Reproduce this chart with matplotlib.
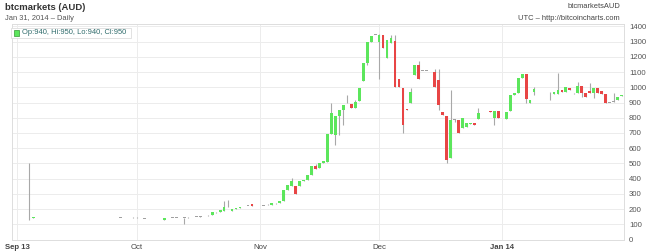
import numpy as np
import matplotlib
matplotlib.use('Agg')
import matplotlib.pyplot as plt
import matplotlib.dates as mdates

plt.rcParams['font.family'] = ['Liberation Sans', 'DejaVu Sans']

dates = ['2013-09-04', '2013-09-05', '2013-09-11', '2013-09-13', '2013-09-27', '2013-09-30',
         '2013-10-01', '2013-10-03', '2013-10-07', '2013-10-08', '2013-10-09', '2013-10-10',
         '2013-10-11', '2013-10-13', '2013-10-14', '2013-10-15', '2013-10-16', '2013-10-17',
         '2013-10-18', '2013-10-19', '2013-10-20', '2013-10-21', '2013-10-22', '2013-10-23',
         '2013-10-24', '2013-10-25', '2013-10-26', '2013-10-27', '2013-10-28', '2013-10-29',
         '2013-10-30', '2013-11-01', '2013-11-02', '2013-11-03', '2013-11-04', '2013-11-05',
         '2013-11-06', '2013-11-07', '2013-11-08', '2013-11-09', '2013-11-10', '2013-11-11',
         '2013-11-12', '2013-11-13', '2013-11-14', '2013-11-15', '2013-11-16', '2013-11-17',
         '2013-11-18', '2013-11-19', '2013-11-20', '2013-11-21', '2013-11-22', '2013-11-23',
         '2013-11-24', '2013-11-25', '2013-11-26', '2013-11-27', '2013-11-28', '2013-11-29',
         '2013-11-30', '2013-12-01', '2013-12-02', '2013-12-03', '2013-12-04', '2013-12-05',
         '2013-12-06', '2013-12-07', '2013-12-08', '2013-12-09', '2013-12-10', '2013-12-11',
         '2013-12-12', '2013-12-13', '2013-12-15', '2013-12-16', '2013-12-17', '2013-12-18',
         '2013-12-19', '2013-12-20', '2013-12-21', '2013-12-22', '2013-12-23', '2013-12-24',
         '2013-12-25', '2013-12-26', '2013-12-27', '2013-12-28', '2013-12-29', '2013-12-30',
         '2013-12-31', '2014-01-01', '2014-01-02', '2014-01-03', '2014-01-04', '2014-01-05',
         '2014-01-06', '2014-01-07', '2014-01-08', '2014-01-09', '2014-01-10', '2014-01-11',
         '2014-01-13', '2014-01-14', '2014-01-15', '2014-01-16', '2014-01-17', '2014-01-18',
         '2014-01-19', '2014-01-20', '2014-01-21', '2014-01-22', '2014-01-23', '2014-01-24',
         '2014-01-25', '2014-01-26', '2014-01-27', '2014-01-28', '2014-01-29', '2014-01-30',
         '2014-01-31']

opens = [132, 140, 140, 140, 142, 145,
         145, 136, 127, 127, 140, 142,
         142, 142, 145, 147, 149, 151,
         153, 158, 158, 178, 178, 188,
         225, 188, 200, 206, 219, 222,
         230, 219, 220, 230, 228, 237,
         241, 254, 324, 351, 351, 351,
         384, 392, 423, 482, 467, 500,
         511, 691, 686, 813, 851, 895,
         890, 866, 910, 1042, 1158, 1300,
         1344, 1300, 1344, 1195, 1290, 1307,
         1053, 994, 855, 895, 1081, 1147,
         1107, 1107, 1100, 1048, 836, 811,
         533, 785, 785, 730, 741, 760,
         767, 792, 829, 829, 846, 796,
         846, 790, 790, 846, 949, 961,
         1059, 1088, 899, 971, 954, 954,
         954, 954, 954, 982, 971, 998,
         960, 960, 1009, 965, 978, 965,
         998, 976, 954, 899, 905, 917,
         940]

highs = [500, 150, 141, 141, 143, 146,
         146, 137, 128, 140, 141, 143,
         143, 143, 146, 148, 150, 152,
         154, 159, 178, 179, 193, 254,
         258, 200, 205, 212, 220, 223,
         231, 220, 221, 231, 237, 238,
         254, 324, 357, 401, 351, 384,
         392, 423, 482, 495, 500, 515,
         691, 895, 811, 851, 883, 949,
         892, 917, 998, 1158, 1300, 1335,
         1345, 1350, 1344, 1311, 1344, 1344,
         1053, 994, 856, 994, 1147, 1175,
         1108, 1108, 1122, 1119, 836, 811,
         982, 795, 785, 798, 763, 764,
         767, 862, 830, 830, 846, 846,
         846, 791, 840, 949, 960, 1059,
         1088, 1088, 917, 1000, 955, 955,
         971, 971, 1096, 982, 1000, 998,
         961, 1037, 1009, 965, 1026, 998,
         998, 976, 954, 900, 960, 938,
         950]

lows = [127, 140, 139, 139, 141, 144,
        144, 135, 126, 127, 139, 141,
        141, 100, 144, 146, 148, 150,
        152, 157, 158, 177, 178, 186,
        215, 188, 200, 206, 218, 221,
        221, 218, 219, 229, 228, 236,
        241, 254, 324, 351, 298, 351,
        384, 392, 423, 461, 467, 500,
        511, 691, 620, 686, 752, 895,
        866, 866, 910, 1042, 1147, 1300,
        1343, 1053, 1256, 1195, 1290, 1004,
        1004, 697, 848, 895, 1081, 1053,
        1106, 1106, 1004, 851, 815, 500,
        533, 775, 700, 730, 741, 760,
        752, 792, 828, 828, 836, 752,
        796, 789, 790, 846, 949, 961,
        1059, 899, 899, 950, 953, 953,
        917, 954, 954, 971, 971, 982,
        959, 960, 938, 938, 965, 928,
        965, 954, 899, 898, 905, 917,
        940]

closes = [132, 148, 140, 140, 142, 145,
          145, 136, 127, 140, 140, 142,
          142, 142, 145, 147, 149, 151,
          153, 158, 178, 178, 193, 215,
          225, 200, 205, 212, 219, 222,
          221, 219, 220, 230, 237, 237,
          254, 324, 357, 386, 298, 384,
          392, 423, 482, 461, 500, 515,
          691, 833, 811, 851, 883, 897,
          866, 905, 998, 1158, 1300, 1335,
          1344, 1344, 1256, 1311, 1323, 1004,
          1004, 752, 848, 971, 1147, 1053,
          1107, 1107, 1004, 884, 815, 525,
          785, 785, 700, 798, 763, 764,
          752, 829, 829, 829, 836, 846,
          796, 790, 840, 949, 960, 1059,
          1088, 921, 917, 988, 954, 954,
          954, 971, 982, 971, 1000, 982,
          960, 1009, 965, 938, 965, 998,
          965, 954, 899, 899, 905, 938,
          950]

y_ticks = list(range(0, 1500, 100))
month_ticks = ['2013-09-01', '2013-10-01', '2013-11-01', '2013-12-01', '2014-01-01']
month_labels = ['Sep 13', 'Oct', 'Nov', 'Dec', 'Jan 14']

UP = '#5ce65c'
DOWN = '#e84545'
FLAT = '#a0a0a0'
WICK = '#a8a8a8'

x = mdates.datestr2num(dates)
o = np.array(opens, dtype=float)
h = np.array(highs, dtype=float)
l = np.array(lows, dtype=float)
c = np.array(closes, dtype=float)

fig = plt.figure(figsize=(6.5, 2.52), dpi=100)
ax = fig.add_axes([12 / 650, 12.5 / 252, 611.5 / 650, 215.5 / 252])

ax.vlines(x, l, h, color=WICK, linewidth=0.8, zorder=2)
colors = [UP if cc > oo else (DOWN if cc < oo else FLAT) for oo, cc in zip(o, c)]
bottoms = np.minimum(o, c)
heights = np.maximum(np.abs(c - o), 4)
ax.bar(x, heights, bottom=bottoms, width=0.7, color=colors, edgecolor='none', zorder=3)

ax.set_ylim(0, 1416)
ax.set_xlim(mdates.datestr2num('2013-09-01') - 1.37, mdates.datestr2num('2014-02-01') - 0.5)

ax.yaxis.tick_right()
ax.set_yticks(y_ticks)
ax.set_yticklabels([str(v) for v in y_ticks], fontsize=5.6, color='#555555')
ax.tick_params(axis='y', length=0, pad=4)

mt = mdates.datestr2num(month_ticks)
ax.set_xticks(mt)
ax.set_xticklabels(month_labels, fontsize=5.6, color='#444444')
for lab in ax.get_xticklabels():
    if lab.get_text() in ('Sep 13', 'Jan 14'):
        lab.set_fontweight('bold')
ax.tick_params(axis='x', length=0, pad=3)

ax.grid(True, color='#ececec', linewidth=0.7, zorder=0)
ax.set_axisbelow(True)
for side in ['left', 'top', 'bottom', 'right']:
    ax.spines[side].set_color('#dddddd')
    ax.spines[side].set_linewidth(0.7)

# header texts
fig.text(5 / 650, 1 - 7 / 252, 'btcmarkets (AUD)', fontsize=6.8, fontweight='bold',
         color='#333333', va='center', ha='left')
fig.text(5 / 650, 1 - 19 / 252, 'Jan 31, 2014 \u2013 Daily', fontsize=5.4,
         color='#555555', va='center', ha='left')
fig.text(620 / 650, 1 - 7 / 252, 'btcmarketsAUD', fontsize=5.4,
         color='#444444', va='center', ha='right')
fig.text(620 / 650, 1 - 19 / 252, 'UTC \u2013 http://bitcoincharts.com', fontsize=5.4,
         color='#444444', va='center', ha='right')

# legend box
leg = plt.Rectangle((11 / 650, 1 - 38 / 252), 120 / 650, 10 / 252, transform=fig.transFigure,
                    facecolor='white', edgecolor='#dddddd', linewidth=0.6, zorder=5)
fig.patches.append(leg)
sq = plt.Rectangle((14 / 650, 1 - 35.5 / 252), 5 / 650, 5 / 252, transform=fig.transFigure,
                   facecolor=UP, edgecolor='#339933', linewidth=0.5, zorder=6)
fig.patches.append(sq)
fig.text(22 / 650, 1 - 33 / 252, 'Op:940, Hi:950, Lo:940, Cl:950', fontsize=5.4,
         color='#2e6b6b', va='center', ha='left', zorder=7)

fig.savefig('out.png', dpi=100)
